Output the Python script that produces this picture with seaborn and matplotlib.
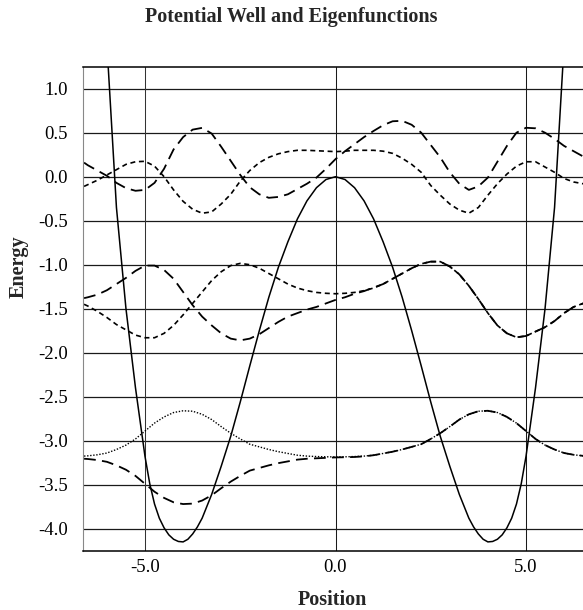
import matplotlib
matplotlib.use("Agg")
import matplotlib.pyplot as plt
import seaborn as sns
import pandas as pd

# ---------------- data ----------------
X = [-6.6, -6.5, -6.25, -6.0, -5.75, -5.5, -5.25, -5.0, -4.75, -4.5, -4.25, -4.0,
     -3.75, -3.5, -3.25, -3.0, -2.75, -2.5, -2.25, -2.0, -1.75, -1.5, -1.25, -1.0,
     -0.75, -0.5, -0.25, 0.0, 0.25, 0.5, 0.75, 1.0, 1.25, 1.5, 1.75, 2.0, 2.25, 2.5,
     2.75, 3.0, 3.25, 3.5, 3.75, 4.0, 4.25, 4.5, 4.75, 5.0, 5.25, 5.5, 5.75, 6.0,
     6.25, 6.5, 6.6]

# potential (solid)
PX = [-6.25, -6.0, -5.75, -5.5, -5.25, -5.0, -4.875, -4.75, -4.625, -4.5, -4.375,
      -4.25, -4.125, -4.0, -3.875, -3.75, -3.625, -3.5, -3.25, -3.0, -2.75, -2.5,
      -2.25, -2.0, -1.75, -1.5, -1.25, -1.0, -0.75, -0.5, -0.25, 0.0, 0.25, 0.5,
      0.75, 1.0, 1.25, 1.5, 1.75, 2.0, 2.25, 2.5, 2.75, 3.0, 3.25, 3.5, 3.625,
      3.75, 3.875, 4.0, 4.125, 4.25, 4.375, 4.5, 4.625, 4.75, 4.875, 5.0, 5.25,
      5.5, 5.75, 6.0, 6.25]
POT = [3.6, 1.5, -0.35, -1.5, -2.4, -3.18, -3.49, -3.72, -3.88, -3.99, -4.07,
       -4.12, -4.145, -4.15, -4.12, -4.06, -3.98, -3.88, -3.61, -3.29, -2.95, -2.56,
       -2.15, -1.75, -1.37, -1.03, -0.74, -0.48, -0.275, -0.125, -0.032, 0.0, -0.032, -0.125,
       -0.275, -0.48, -0.74, -1.03, -1.37, -1.75, -2.15, -2.56, -2.95, -3.29, -3.61, -3.88,
       -3.98, -4.06, -4.12, -4.15, -4.145, -4.12, -4.07, -3.99, -3.88, -3.72, -3.49,
       -3.18, -2.4, -1.5, -0.35, 1.5, 3.6]

# ground pair
GROUND_SYM = [-3.175, -3.172, -3.16, -3.14, -3.10, -3.05, -2.98, -2.89, -2.80, -2.73,
              -2.68, -2.66, -2.665, -2.70, -2.76, -2.84, -2.915, -2.98, -3.04, -3.07,
              -3.10, -3.125, -3.145, -3.165, -3.175, -3.18, -3.183, -3.184, -3.183, -3.18,
              -3.175, -3.165, -3.145, -3.125, -3.10, -3.07, -3.04, -2.98, -2.915, -2.84,
              -2.76, -2.70, -2.665, -2.66, -2.68, -2.73, -2.80, -2.89, -2.98, -3.05,
              -3.10, -3.14, -3.16, -3.172, -3.175]
GROUND_ANTI = [-3.205, -3.208, -3.22, -3.24, -3.28, -3.33, -3.40, -3.49, -3.58, -3.65,
               -3.70, -3.72, -3.715, -3.68, -3.62, -3.54, -3.465, -3.40, -3.34, -3.31,
               -3.28, -3.255, -3.235, -3.215, -3.205, -3.20, -3.195, -3.19, -3.188, -3.185,
               -3.178, -3.165, -3.145, -3.125, -3.10, -3.07, -3.04, -2.98, -2.915, -2.84,
               -2.76, -2.70, -2.665, -2.66, -2.68, -2.73, -2.80, -2.89, -2.98, -3.05,
               -3.10, -3.14, -3.16, -3.172, -3.175]

# second pair
SECOND_SYM = [-1.45, -1.47, -1.53, -1.60, -1.68, -1.74, -1.80, -1.83, -1.83, -1.78,
              -1.69, -1.57, -1.44, -1.31, -1.18, -1.08, -1.01, -0.985, -1.00, -1.04,
              -1.10, -1.16, -1.22, -1.265, -1.295, -1.315, -1.325, -1.33, -1.325, -1.315,
              -1.295, -1.265, -1.22, -1.16, -1.10, -1.04, -0.99, -0.965, -0.965, -1.02,
              -1.11, -1.24, -1.39, -1.55, -1.69, -1.78, -1.825, -1.81, -1.76, -1.71,
              -1.64, -1.55, -1.48, -1.44, -1.43]
SECOND_ANTI = [-1.38, -1.37, -1.34, -1.29, -1.22, -1.15, -1.07, -1.01, -1.01, -1.06,
               -1.16, -1.31, -1.46, -1.59, -1.69, -1.78, -1.84, -1.86, -1.84, -1.79,
               -1.72, -1.65, -1.59, -1.55, -1.51, -1.48, -1.44, -1.40, -1.37, -1.33,
               -1.30, -1.26, -1.22, -1.16, -1.10, -1.04, -0.99, -0.965, -0.965, -1.02,
               -1.11, -1.24, -1.39, -1.55, -1.69, -1.78, -1.825, -1.81, -1.76, -1.71,
               -1.64, -1.55, -1.48, -1.44, -1.43]

# third pair
THIRD_SYM = [-0.11, -0.09, -0.04, 0.02, 0.08, 0.14, 0.17, 0.175, 0.12, 0.0,
             -0.15, -0.28, -0.37, -0.415, -0.40, -0.31, -0.20, -0.05, 0.07, 0.16,
             0.22, 0.26, 0.285, 0.30, 0.30, 0.295, 0.29, 0.285, 0.29, 0.30,
             0.30, 0.30, 0.29, 0.265, 0.21, 0.14, 0.05, -0.10, -0.21, -0.31,
             -0.38, -0.415, -0.35, -0.21, -0.08, 0.03, 0.12, 0.17, 0.17, 0.11,
             0.05, -0.02, -0.06, -0.08, -0.09]
THIRD_ANTI = [0.16, 0.13, 0.07, 0.01, -0.07, -0.13, -0.16, -0.15, -0.07, 0.09,
              0.31, 0.45, 0.535, 0.555, 0.49, 0.34, 0.18, 0.02, -0.12, -0.20,
              -0.24, -0.23, -0.20, -0.14, -0.08, -0.01, 0.09, 0.20, 0.29, 0.37,
              0.45, 0.52, 0.585, 0.63, 0.635, 0.59, 0.50, 0.36, 0.22, 0.05,
              -0.08, -0.15, -0.11, -0.01, 0.17, 0.35, 0.50, 0.556, 0.55, 0.50,
              0.43, 0.35, 0.29, 0.23, 0.21]

Y_TICKS = [1.0, 0.5, 0.0, -0.5, -1.0, -1.5, -2.0, -2.5, -3.0, -3.5, -4.0]
Y_LABELS = ["1.0", "0.5", "0.0", "-0.5", "-1.0", "-1.5", "-2.0", "-2.5", "-3.0", "-3.5", "-4.0"]
X_TICKS = [-5.0, 0.0, 5.0]
X_LABELS = ["-5.0", "0.0", "5.0"]

# ---------------- style ----------------
sns.set_style("white")
plt.rcParams["font.family"] = ["Liberation Serif", "DejaVu Serif"]

W, H = 583, 610
fig = plt.figure(figsize=(W / 100, H / 100), dpi=100)
left, right, top, bottom = 83.3, 587.7, 66.7, 550.7
ax = fig.add_axes([left / W, (H - bottom) / H, (right - left) / W, (bottom - top) / H])

ax.set_xlim(-6.62, 6.62)
ax.set_ylim(-4.25, 1.25)

# grid lines
for yv in Y_TICKS:
    ax.axhline(yv, color="#1a1a1a", lw=0.9, zorder=1)
for xv in X_TICKS:
    ax.axvline(xv, color="#333333" if xv == -5.0 else "#1a1a1a", lw=0.75, zorder=1)

df_pot = pd.DataFrame({"x": PX, "V": POT})

common = dict(color="black", sort=False, estimator=None, ax=ax, legend=False)
sns.lineplot(data=df_pot, x="x", y="V", lw=1.1, linestyle="-", **common)

long_dash = (0, (6.5, 3.5))
short_dash = (0, (3.0, 2.2))
dot = (0, (1.0, 1.2))

sns.lineplot(x=X, y=GROUND_SYM, lw=1.0, linestyle=dot, **common)
sns.lineplot(x=X, y=GROUND_ANTI, lw=1.3, linestyle=long_dash, **common)
sns.lineplot(x=X, y=SECOND_SYM, lw=1.2, linestyle=short_dash, **common)
sns.lineplot(x=X, y=SECOND_ANTI, lw=1.3, linestyle=long_dash, **common)
sns.lineplot(x=X, y=THIRD_SYM, lw=1.2, linestyle=short_dash, **common)
sns.lineplot(x=X, y=THIRD_ANTI, lw=1.3, linestyle=long_dash, **common)

ax.set_yticks(Y_TICKS)
ax.set_yticklabels(Y_LABELS)
ax.set_xticks(X_TICKS)
ax.set_xticklabels(X_LABELS)
ax.tick_params(axis="both", length=0, labelsize=13.5, colors="black")
ax.tick_params(axis="y", pad=11)
ax.tick_params(axis="x", pad=6)
ax.set_xlabel("")
ax.set_ylabel("")

for side in ["top", "bottom"]:
    ax.spines[side].set_color("black")
    ax.spines[side].set_linewidth(1.1)
ax.spines["left"].set_color("#888888")
ax.spines["left"].set_linewidth(0.8)
ax.spines["right"].set_visible(False)

fig.text(0.5, 1 - 22 / H, "Potential Well and Eigenfunctions", ha="center",
         va="baseline", fontsize=14.5, fontweight="bold")
fig.text(332 / W, 1 - 605 / H, "Position", ha="center", va="baseline",
         fontsize=14.5, fontweight="bold")
fig.text(19 / W, 1 - 267 / H, "Energy", ha="center", va="center", rotation=90,
         fontsize=14.5, fontweight="bold")

fig.savefig("out.png", dpi=100)
